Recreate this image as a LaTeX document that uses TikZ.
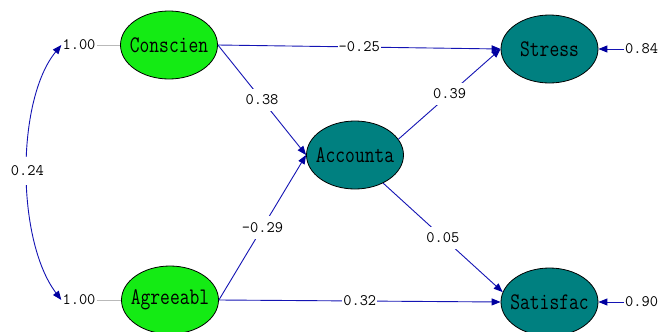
\documentclass[tikz,border=0pt]{standalone}
\usepackage{fontspec}
\usepackage{graphicx}
\usetikzlibrary{arrows.meta,shapes.geometric}
\definecolor{lvgreen}{RGB}{20,235,20}
\definecolor{lvteal}{RGB}{0,128,128}
\definecolor{lvblue}{RGB}{20,20,180}
\definecolor{lvtip}{RGB}{0,0,160}
\definecolor{lvgray}{RGB}{185,185,185}
\newcommand{\lvtext}[1]{\makebox[0pt][c]{\scalebox{1}[1.25]{#1}}}
\begin{document}
\begin{tikzpicture}[x=1pt,y=-1pt,
  latent/.style={ellipse, draw=black, line width=0.8pt, minimum width=97pt, minimum height=68pt, inner sep=0pt, font=\fontsize{19}{19}\selectfont\ttfamily},
  exo/.style={latent, fill=lvgreen},
  endo/.style={latent, fill=lvteal},
  pathline/.style={draw=lvblue, line width=0.9pt, -{Triangle[length=9pt,width=7pt,color=lvtip]}},
  covline/.style={draw=lvblue, line width=0.9pt, {Triangle[length=9pt,width=7pt,color=lvtip]}-{Triangle[length=9pt,width=7pt,color=lvtip]}},
  coef/.style={fill=white, inner xsep=1pt, inner ysep=6pt, font=\fontsize{16}{16}\selectfont\ttfamily},
  varlab/.style={inner xsep=1pt, inner ysep=2pt, font=\fontsize{16}{16}\selectfont\ttfamily},
  fixline/.style={draw=lvgray, line width=0.9pt}
]
\useasboundingbox (0,0) rectangle (659,332);
\clip (0,0) rectangle (659,332);
\fill[white] (0,0) rectangle (659,332);

\node[exo]  (cons)   at (169,45)  {\lvtext{Conscien}};
\node[exo]  (agree)  at (170,300) {\lvtext{Agreeabl}};
\node[endo] (acc)    at (355,155) {\lvtext{Accounta}};
\node[endo] (stress) at (549.5,49) {\lvtext{Stress}};
\node[endo] (satis)  at (549.5,302) {\lvtext{Satisfac}};

\node[varlab] (l1) at (79,45)  {1.00};
\node[varlab] (l2) at (79,300) {1.00};
\node[varlab, anchor=west] (e1) at (624,49)  {0.84};
\node[varlab, anchor=west] (e2) at (624,302) {0.90};

\draw[fixline] (l1) -- (cons);
\draw[fixline] (l2) -- (agree);

\draw[covline] (l1.west) .. controls (16,100) and (16,240) .. node[coef, inner ysep=9pt] {0.24} (l2.west);

\draw[pathline] (cons.east) -- node[coef] {-0.25} (stress.west);
\draw[pathline] (cons.east) -- node[coef] {0.38} (acc.west);
\draw[pathline] (agree.east) -- node[coef] {-0.29} (acc.west);
\draw[pathline] (agree.east) -- node[coef] {0.32} (satis.west);
\draw[pathline] (acc.20) -- node[coef] {0.39} (stress.west);
\draw[pathline] (acc.-45) -- node[coef] {0.05} (satis.168);

\draw[pathline] (e1.west) -- (stress.east);
\draw[pathline] (e2.west) -- (satis.east);
\end{tikzpicture}
\end{document}
